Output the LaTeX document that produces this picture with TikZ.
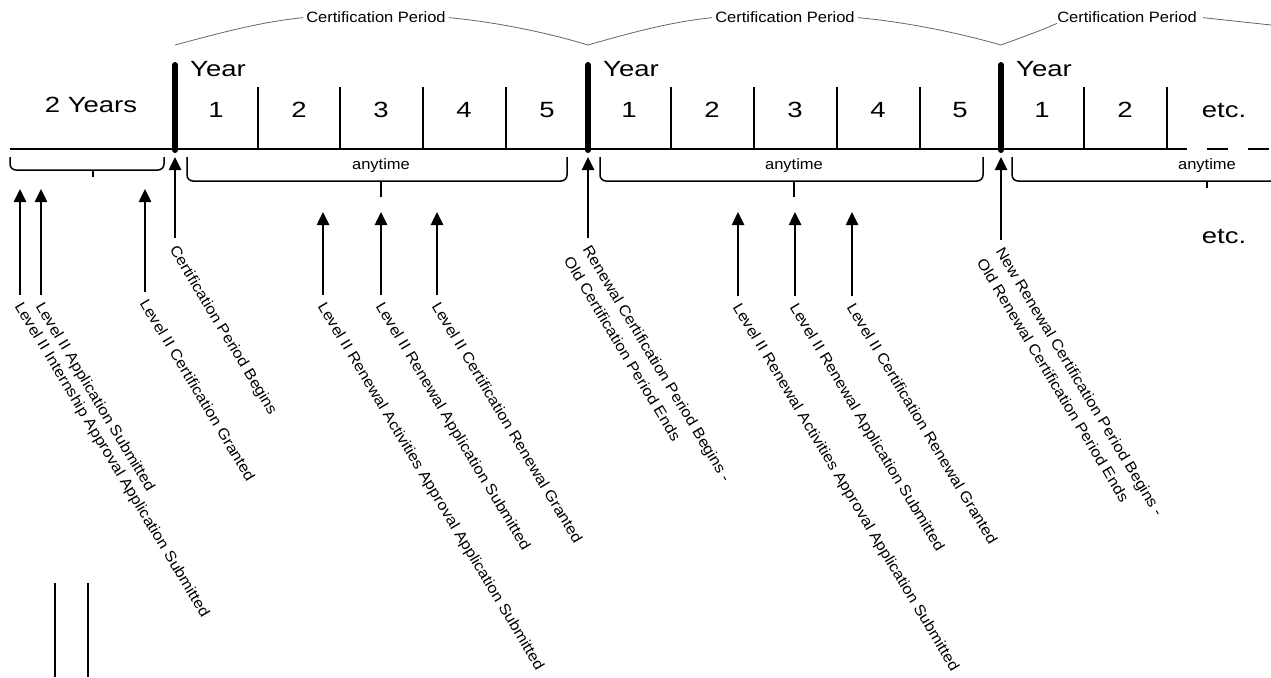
\documentclass[tikz,border=0pt]{standalone}
\usepackage{fontspec}
\setmainfont{Liberation Sans}[FakeStretch=1.1]
\newfontfamily\bigfont{Liberation Sans}[FakeStretch=1.25]
\usetikzlibrary{arrows.meta}

\begin{document}
\begin{tikzpicture}[x=1pt,y=-1pt,
        evt/.style={anchor=north west,rotate=-59,inner sep=1pt,align=left,font=\fontsize{15}{22}\selectfont},
        small/.style={inner sep=0pt,anchor=base,font=\fontsize{15}{18}\selectfont},
        big/.style={inner sep=0pt,anchor=base,font=\bigfont\fontsize{22}{26}\selectfont},
        arr/.style={-{Triangle[length=13pt,width=12pt]},line width=2.5pt},
        brc/.style={black!60,line width=0.8pt},
        rnd/.style={rounded corners=6pt,line width=1.5pt}]
    \useasboundingbox (0,0) rectangle (1271,677);
    \draw[line width=2.5pt] (10,149) -- (1187,149);
    \draw[line width=2.5pt,dash pattern=on 21pt off 20pt] (1207,149) -- (1271,149);
    \foreach \x in {258,340,423,506,671,754,837,920,1084,1167}
        \draw[line width=2.5pt] (\x,87) -- (\x,149);
    \foreach \x/\n in {175/y1,588/y2,1001/y3}{
        \draw[line width=6pt,line cap=round] (\x,65) -- (\x,150);
        \coordinate (\n) at (\x,45);
        \node[big,anchor=base west] (yr\n) at (\x+15,76) {Year};
    }
    \foreach \x/\t in {216/1,299/2,381/3,464/4,547/5,629/1,712/2,795/3,878/4,960/5,1042/1,1125/2}
        \node[big] (n\x) at (\x,117) {\t};
    \node[big] (two) at (91,112) {2 Years};
    \node[big] (etc1) at (1224,117) {etc.};
    \node[big] (etc2) at (1224,243) {etc.};
    \node[small] (cp1) at (376,23) {Certification Period};
    \node[small] (cp2) at (785,23) {Certification Period};
    \node[small] (cp3) at (1127,23) {Certification Period};
    \coordinate (rend) at (1271,25);
    \draw[brc] (y1) .. controls (220,33) and (260,22) .. ([xshift=-3pt]cp1.west);
    \draw[brc] ([xshift=3pt]cp1.east) .. controls (495,22) and (545,32) .. (y2);
    \draw[brc] (y2) .. controls (630,33) and (670,22) .. ([xshift=-3pt]cp2.west);
    \draw[brc] ([xshift=3pt]cp2.east) .. controls (905,22) and (955,32) .. (y3);
    \draw[brc] (y3) .. controls (1020,38) and (1040,31) .. (cp3.south west);
    \draw[brc] ([xshift=6pt]cp3.east) -- (rend);
    \draw[rnd] (10,157) -- (10,170) -- (164,170) -- (164,157);
    \draw[line width=1.5pt] (93,170) -- (93,177);
    \foreach \l/\r/\m in {187/567/381,600/983/794}{
        \draw[rnd] (\l,157) -- (\l,181) -- (\r,181) -- (\r,157);
        \draw[line width=1.5pt] (\m,181) -- (\m,197);
        \node[small] (any\m) at (\m,169) {anytime};
    }
    \draw[rnd] (1012,157) -- (1012,181) -- (1271,181);
    \draw[line width=1.5pt] (1207,181) -- (1207,188);
    \node[small] (any1207) at (1207,169) {anytime};
    \foreach \x/\a/\b/\t in {
        20/189/295/{Level II Internship Approval Application Submitted},
        41/189/295/{Level II Application Submitted},
        145/189/292/{Level II Certification Granted},
        175/157/238/{Certification Period Begins},
        323/212/295/{Level II Renewal Activities Approval Application Submitted},
        381/212/295/{Level II Renewal Application Submitted},
        437/212/295/{Level II Certification Renewal Granted},
        588/157/238/{Renewal Certification Period Begins -\\Old Certification Period Ends},
        738/212/296/{Level II Renewal Activities Approval Application Submitted},
        795/212/296/{Level II Renewal Application Submitted},
        852/212/296/{Level II Certification Renewal Granted},
        1001/157/240/{New Renewal Certification Period Begins -\\Old Renewal Certification Period Ends}}{
        \coordinate (t\x) at (\x,\a);
        \coordinate (b\x) at (\x,\b);
        \draw[arr] (b\x) -- (t\x);
        \node[evt] (e\x) at ([shift={(4,4)}]b\x) {\t};
    }
    \draw[line width=1.5pt] (55,583) -- (55,677);
    \draw[line width=1.5pt] (88,583) -- (88,677);
\end{tikzpicture}
\end{document}
